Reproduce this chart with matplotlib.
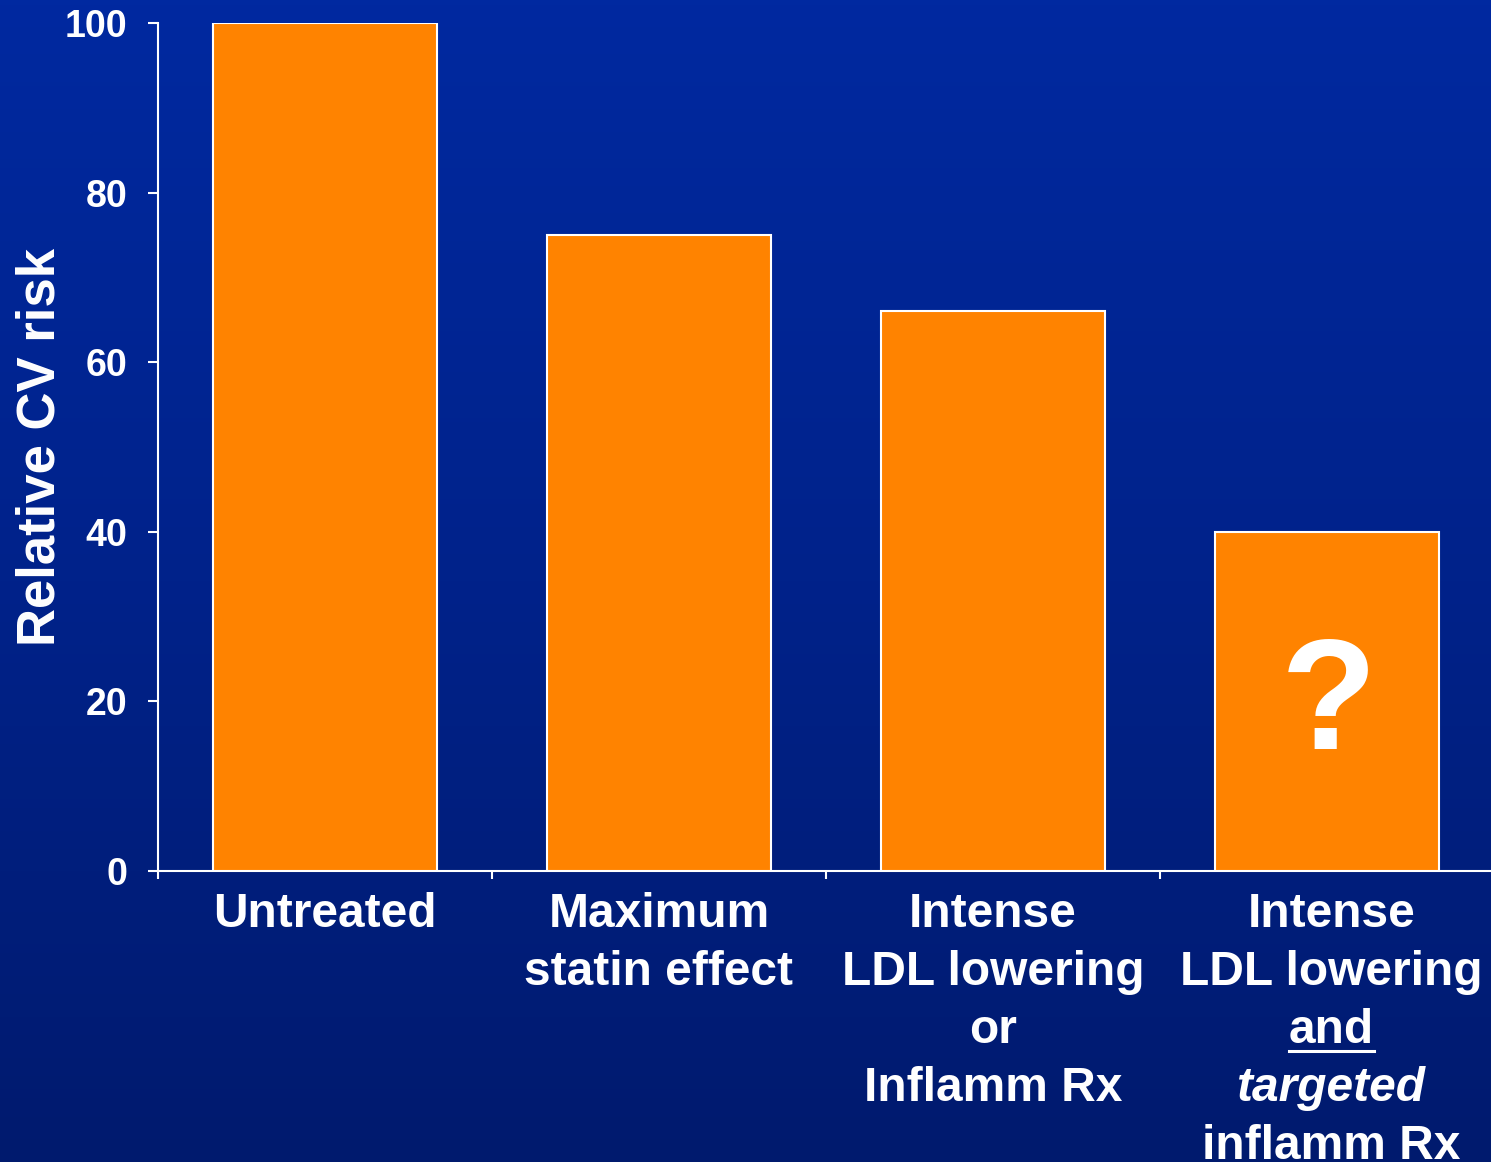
import matplotlib
matplotlib.use('Agg')
import matplotlib.pyplot as plt
import numpy as np
from matplotlib.colors import LinearSegmentedColormap

# bar data
categories = ['Untreated', 'Maximum statin effect', 'Intense LDL lowering or Inflamm Rx',
              'Intense LDL lowering and targeted inflamm Rx']
risk = [100, 75, 66, 40]
# label lines per bar: (text, style, underline)
label_lines = [
    [('Untreated', 'normal', False)],
    [('Maximum', 'normal', False), ('statin effect', 'normal', False)],
    [('Intense', 'normal', False), ('LDL lowering', 'normal', False),
     ('or', 'normal', False), ('Inflamm Rx', 'normal', False)],
    [('Intense', 'normal', False), ('LDL lowering', 'normal', False),
     ('and', 'normal', True), ('targeted', 'italic', False), ('inflamm Rx', 'normal', False)],
]
yticks = [0, 20, 40, 60, 80, 100]

plt.rcParams['font.family'] = ['Liberation Sans', 'DejaVu Sans']
plt.rcParams['font.weight'] = 'bold'

W, H, DPI = 1491, 1162, 100
fig = plt.figure(figsize=(W / DPI, H / DPI), dpi=DPI)

# blue gradient backdrop
bg = fig.add_axes([0, 0, 1, 1], zorder=-10)
grad = np.linspace(0, 1, 256).reshape(-1, 1)
cmap = LinearSegmentedColormap.from_list('slide', ['#0029A0', '#00228A', '#001A6E'])
bg.imshow(grad, aspect='auto', cmap=cmap, extent=[0, 1, 0, 1], origin='upper')
bg.set_axis_off()

# axes: left 158px, right ~1494px, bottom 871px, top 23px
left, right, bottom, top = 158, 1494, 871, 23
ax = fig.add_axes([left / W, 1 - bottom / H, (right - left) / W, (bottom - top) / H])
ax.patch.set_alpha(0)

x = np.arange(len(risk))
ax.bar(x, risk, width=0.67, color='#FF8300', edgecolor='white', linewidth=1.5, zorder=3)
ax.set_xlim(-0.5, len(risk) - 0.5)
ax.set_ylim(0, 100)

for s in ['top', 'right']:
    ax.spines[s].set_visible(False)
for s in ['left', 'bottom']:
    ax.spines[s].set_color('white')
    ax.spines[s].set_linewidth(1.5)

ax.set_yticks(yticks)
ax.set_yticklabels([str(v) for v in yticks])
ax.tick_params(axis='y', colors='white', labelsize=27, length=7, width=1.5, pad=15)
ax.set_xticks(np.arange(len(risk)) - 0.5)
ax.set_xticklabels([])
ax.tick_params(axis='x', colors='white', length=6, width=1.5)

ax.text((41 - left) / (right - left), 0.5, 'Relative CV risk', transform=ax.transAxes,
        rotation=90, ha='center', va='center', fontsize=38, color='white', fontweight='bold')

# category labels, one text per line
line_step = 41.8
first_offset = -40.3
x_shift = [0, 0, 0, 3]
underline_targets = []
for i, lines in enumerate(label_lines):
    for j, (txt, style, under) in enumerate(lines):
        t = ax.annotate(txt, xy=(x[i], 0), xycoords=('data', 'axes fraction'),
                        xytext=(x_shift[i], first_offset - j * line_step),
                        textcoords='offset points',
                        ha='center', va='baseline', fontsize=34.5, color='white',
                        fontweight='bold', fontstyle=style, annotation_clip=False)
        if under:
            underline_targets.append(t)

# question mark on the last bar
ax.text(x[-1] + 0.005, 14.4, '?', ha='center', va='baseline', fontsize=113,
        color='white', fontweight='bold', zorder=4)

fig.canvas.draw()
renderer = fig.canvas.get_renderer()
for t in underline_targets:
    bb = t.get_window_extent(renderer)
    # line sits a few pixels under the baseline
    y_base = bb.y0 + bb.height * 0.2
    y_line = y_base - 7
    fig.add_artist(plt.Line2D([bb.x0 / W, bb.x1 / W], [y_line / H, y_line / H],
                              color='white', linewidth=2.2, transform=fig.transFigure))

fig.savefig('out.png', dpi=DPI)
